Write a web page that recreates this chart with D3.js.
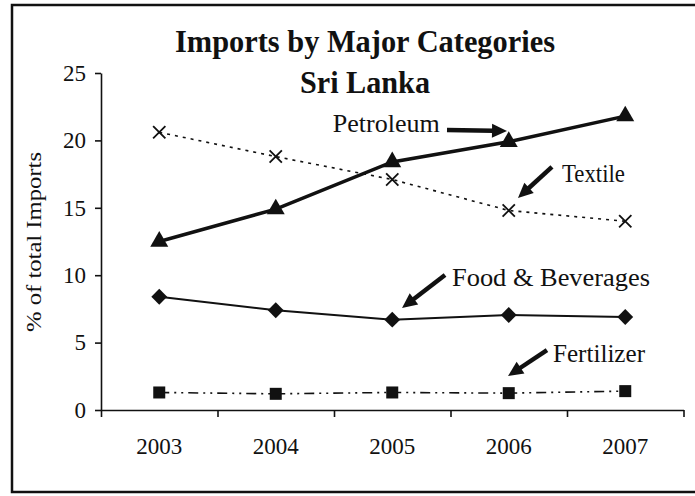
<!DOCTYPE html>
<html><head><meta charset="utf-8">
<script src="https://cdn.jsdelivr.net/npm/d3@7"></script>
<style>
html,body{margin:0;padding:0;background:#fff;overflow:hidden;}
svg{display:block;}
text{font-family:"Liberation Serif","Times New Roman",Times,serif;fill:#111;}
</style></head>
<body>
<svg id="chart" width="695" height="496"></svg>
<script>
// ---- data ----
const years = ["2003","2004","2005","2006","2007"];
const petroleum = [12.5, 14.9, 18.4, 19.9, 21.8];
const textile = [20.6, 18.8, 17.1, 14.8, 14.0];
const foodBeverages = [8.4, 7.4, 6.7, 7.05, 6.9];
const fertilizer = [1.3, 1.2, 1.3, 1.25, 1.4];
const yTicks = [0, 5, 10, 15, 20, 25];
const titleLines = ["Imports by Major Categories", "Sri Lanka"];
const yAxisTitle = "% of total Imports";
const seriesNames = ["Petroleum", "Textile", "Food & Beverages", "Fertilizer"];

// ---- layout ----
const svg = d3.select("#chart");
const plot = {left: 101, right: 683.5, top: 73, bottom: 410};

const x = d3.scaleBand().domain(years).range([plot.left, plot.right]).paddingInner(0).paddingOuter(0);
const xi = d3.scaleLinear().domain([-0.5, years.length - 0.5]).range([plot.left, plot.right]);
const y = d3.scaleLinear().domain([0, 25]).range([plot.bottom, plot.top]);
const cx = d => x(d) + x.bandwidth() / 2;

// frame (open on the right, as in the scan)
svg.append("path").attr("d", "M720,5H12V492H720")
  .attr("fill", "none").attr("stroke", "#111").attr("stroke-width", 2.5);

// title
svg.append("text").attr("x", 365).attr("y", 52).attr("text-anchor", "middle")
  .attr("font-size", 31).attr("font-weight", "bold")
  .attr("textLength", 380).attr("lengthAdjust", "spacingAndGlyphs").text(titleLines[0]);
svg.append("text").attr("x", 365).attr("y", 93).attr("text-anchor", "middle")
  .attr("font-size", 31).attr("font-weight", "bold")
  .attr("textLength", 130).attr("lengthAdjust", "spacingAndGlyphs").text(titleLines[1]);

// y axis
const yAxis = svg.append("g").attr("transform", `translate(${plot.left},0)`)
  .call(d3.axisLeft(y).tickValues(yTicks).tickSize(6).tickSizeOuter(0).tickPadding(9));
yAxis.attr("font-family", null);
yAxis.selectAll("text").attr("font-size", 23);
yAxis.selectAll("line,path").attr("stroke", "#111").attr("stroke-width", 1.6);

// x axis (ticks between categories)
const xTickAxis = svg.append("g").attr("transform", `translate(0,${plot.bottom})`)
  .call(d3.axisBottom(xi).tickValues(d3.range(-0.5, years.length, 1)).tickFormat("").tickSize(7).tickSizeOuter(0));
xTickAxis.selectAll("line,path").attr("stroke", "#111").attr("stroke-width", 1.6);
const xLabAxis = svg.append("g").attr("transform", `translate(0,${plot.bottom})`)
  .call(d3.axisBottom(x).tickSize(0).tickPadding(28));
xLabAxis.attr("font-family", null);
xLabAxis.select(".domain").remove();
xLabAxis.selectAll("text").attr("font-size", 23);

// y axis title
svg.append("text").attr("transform", "translate(41,242) rotate(-90)")
  .attr("text-anchor", "middle").attr("font-size", 22)
  .attr("textLength", 180).attr("lengthAdjust", "spacingAndGlyphs").text(yAxisTitle);

// ---- series ----
const line = vals => d3.line().x((d, i) => cx(years[i])).y(d => y(d))(vals);
const g = svg.append("g");

// Fertilizer
g.append("path").attr("d", line(fertilizer)).attr("fill", "none").attr("stroke", "#111")
  .attr("stroke-width", 1.6).attr("stroke-dasharray", "10,5,2,5,2,5");
g.selectAll(".sq").data(fertilizer).join("rect")
  .attr("x", (d, i) => cx(years[i]) - 6).attr("y", d => y(d) - 6)
  .attr("width", 12).attr("height", 12).attr("fill", "#111");

// Food & Beverages
g.append("path").attr("d", line(foodBeverages)).attr("fill", "none").attr("stroke", "#111").attr("stroke-width", 2);
g.selectAll(".dm").data(foodBeverages).join("path")
  .attr("d", d3.symbol(d3.symbolDiamond2, 160))
  .attr("transform", (d, i) => `translate(${cx(years[i])},${y(d)})`).attr("fill", "#111");

// Textile
g.append("path").attr("d", line(textile)).attr("fill", "none").attr("stroke", "#111")
  .attr("stroke-width", 1.6).attr("stroke-dasharray", "3,5");
g.selectAll(".xm").data(textile).join("path")
  .attr("d", d3.symbol(d3.symbolX, 100))
  .attr("transform", (d, i) => `translate(${cx(years[i])},${y(d)})`)
  .attr("fill", "none").attr("stroke", "#111").attr("stroke-width", 1.8);

// Petroleum
g.append("path").attr("d", line(petroleum)).attr("fill", "none").attr("stroke", "#111").attr("stroke-width", 3.5);
g.selectAll(".tr").data(petroleum).join("path")
  .attr("d", d3.symbol(d3.symbolTriangle, 140))
  .attr("transform", (d, i) => `translate(${cx(years[i])},${y(d)})`).attr("fill", "#111");

// ---- annotations (data space: year index, value) ----
const annotations = [
  {name: seriesNames[0], tx: 1.49, ty: 20.62, len: 107, a: [2.47, 20.77, 2.985, 20.70]},
  {name: seriesNames[1], tx: 3.457, ty: 16.91, len: 63, a: [3.371, 18.03, 3.079, 15.73]},
  {name: seriesNames[2], tx: 2.513, ty: 9.20, len: 198, a: [2.453, 10.01, 2.084, 7.57]},
  {name: seriesNames[3], tx: 3.38, ty: 3.56, len: 92, a: [3.328, 4.45, 2.994, 2.52]}
];
const ag = svg.append("g");
annotations.forEach(an => {
  ag.append("text").attr("x", xi(an.tx)).attr("y", y(an.ty)).attr("font-size", 25)
    .attr("textLength", an.len).attr("lengthAdjust", "spacingAndGlyphs").text(an.name);
  const x1 = xi(an.a[0]), y1 = y(an.a[1]), x2 = xi(an.a[2]), y2 = y(an.a[3]);
  const ang = Math.atan2(y2 - y1, x2 - x1);
  const hl = 15, hw = 7;
  const bx = x2 - hl * Math.cos(ang), by = y2 - hl * Math.sin(ang);
  ag.append("line").attr("x1", x1).attr("y1", y1).attr("x2", bx + Math.cos(ang)).attr("y2", by + Math.sin(ang))
    .attr("stroke", "#111").attr("stroke-width", 4.5);
  const px = -Math.sin(ang), py = Math.cos(ang);
  ag.append("polygon").attr("points",
    [[x2, y2], [bx + px * hw, by + py * hw], [bx - px * hw, by - py * hw]].map(p => p.join(",")).join(" "))
    .attr("fill", "#111");
});
</script>
</body></html>
